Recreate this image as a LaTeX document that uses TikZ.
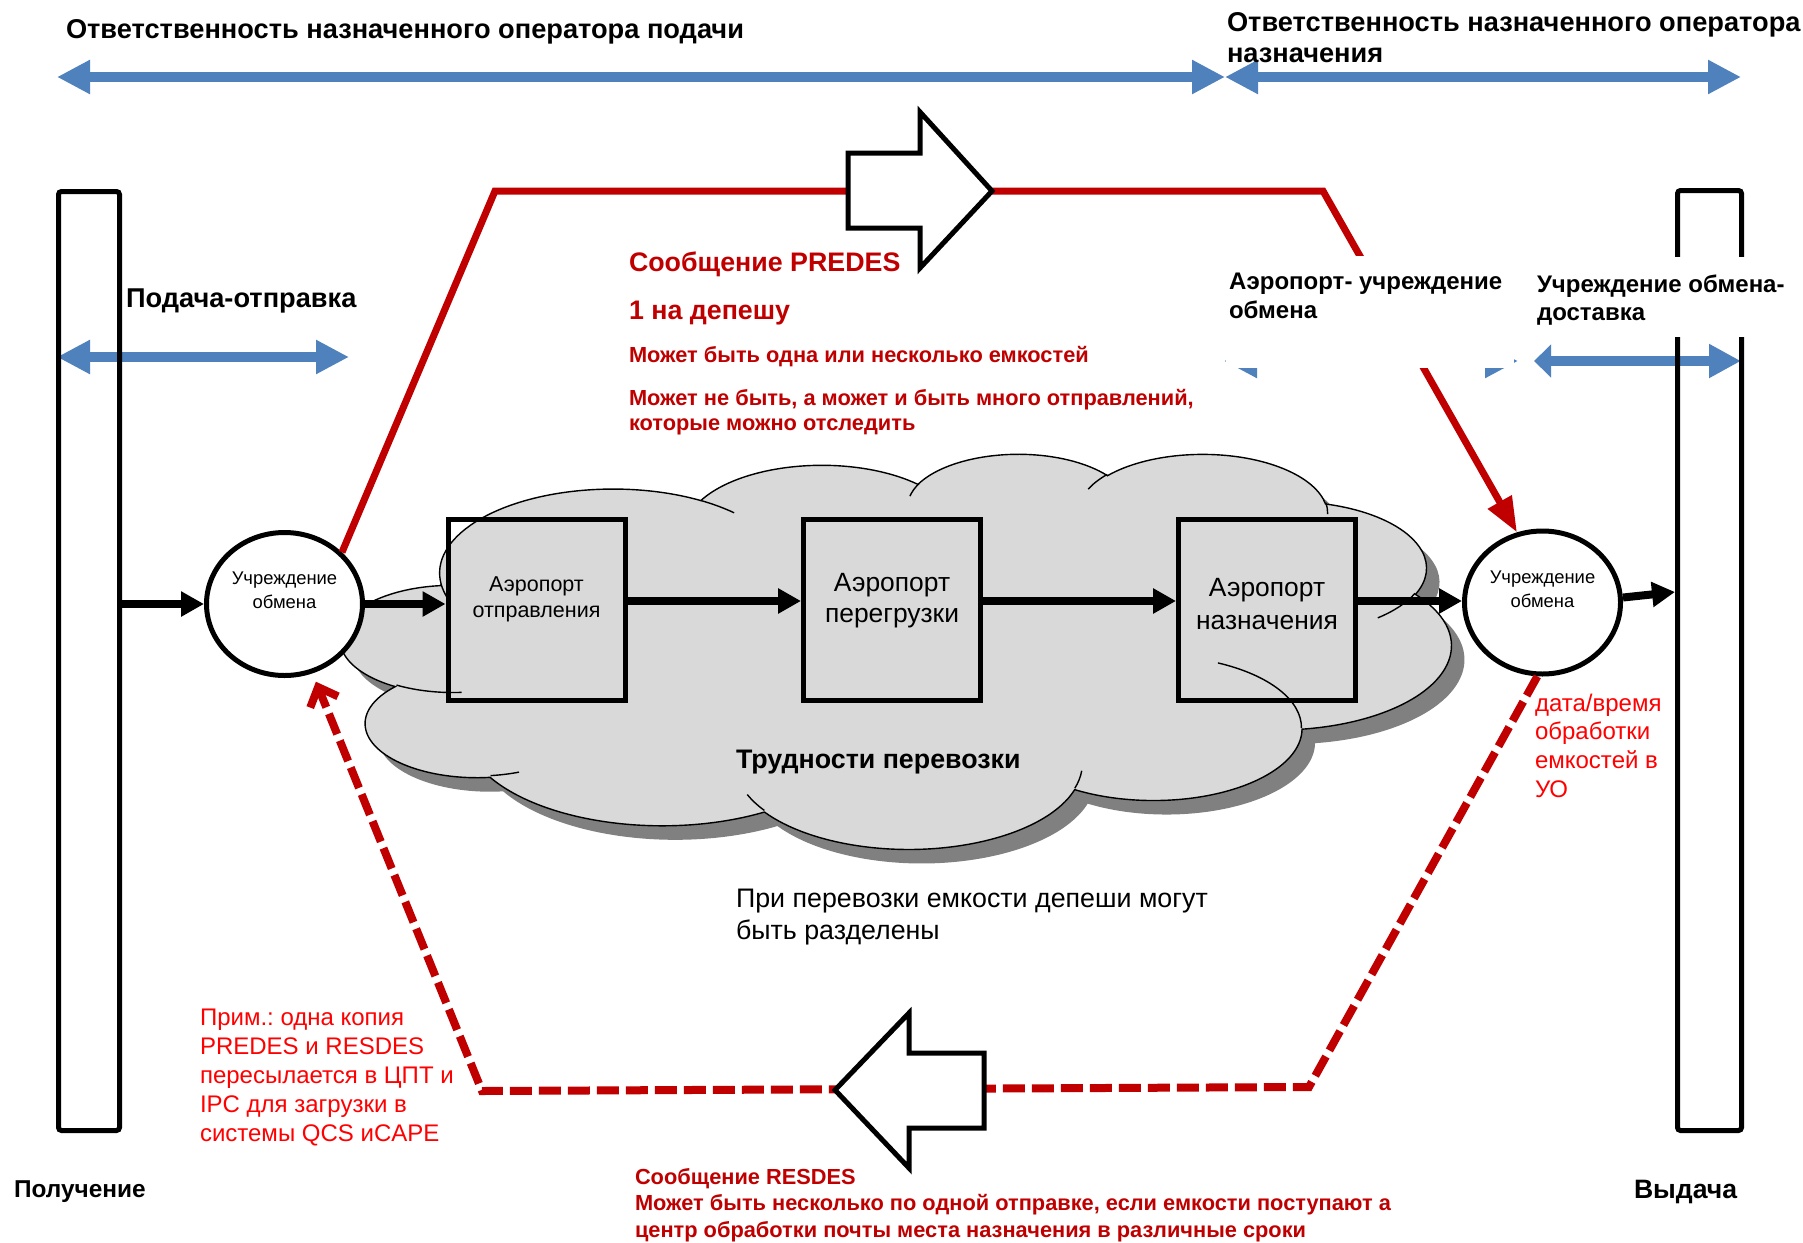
\documentclass[tikz,border=0pt]{standalone}
\usepackage{fontspec}
\setmainfont{Liberation Sans}
\usetikzlibrary{arrows.meta,shapes.geometric}
\frenchspacing
\definecolor{blueA}{HTML}{4F81BD}
\definecolor{redD}{HTML}{C00000}
\definecolor{redB}{HTML}{FF0000}
\definecolor{cloudF}{HTML}{D9D9D9}
\definecolor{shadowC}{HTML}{808080}
\newcommand\fsz[2]{\fontsize{#1}{#2}\selectfont}
\newcommand\lnsl[1]{\begin{tabular}[t]{@{}l@{}}#1\end{tabular}}
\newcommand\lnsc[1]{\begin{tabular}[t]{@{}c@{}}#1\end{tabular}}
% PowerPoint-style arcTo: visual angles -> parametric angles
\newcommand\cldprep[5]{%
  \pgfmathsetmacro\cldtmpa{atan2((#2)*sin(#4),(#3)*cos(#4))}%
  \pgfmathsetmacro\cldtmpb{atan2((#2)*sin((#4)+(#5)),(#3)*cos((#4)+(#5)))}%
  \pgfmathsetmacro\cldtmpd{\cldtmpb-\cldtmpa}%
  \pgfmathsetmacro\cldtmpd{(\cldtmpd>180)?(\cldtmpd-360):((\cldtmpd<-180)?(\cldtmpd+360):(\cldtmpd))}%
  \pgfmathsetmacro\cldtmpx{(#2)*0.5}%
  \pgfmathsetmacro\cldtmpy{(#3)*0.5}%
  \expandafter\xdef\csname cldS#1\endcsname{\cldtmpa}%
  \expandafter\xdef\csname cldD#1\endcsname{\cldtmpd}%
  \expandafter\xdef\csname cldX#1\endcsname{\cldtmpx pt}%
  \expandafter\xdef\csname cldY#1\endcsname{\cldtmpy pt}%
}
\cldprep{A}{67.53}{91.90}{-190.4875}{123.7805}
\cldprep{B}{53.33}{72.67}{-144.1024}{89.9452}
\cldprep{C}{43.65}{59.45}{-145.8079}{99.7230}
\cldprep{D}{48.57}{65.95}{-130.9861}{117.2417}
\cldprep{E}{53.33}{72.73}{-78.7089}{109.0269}
\cldprep{F}{67.75}{92.20}{-46.2673}{130.2690}
\cldprep{G}{57.85}{78.67}{0.6250}{114.0333}
\cldprep{H}{67.52}{92.15}{22.4516}{115.1726}
\cldprep{I}{77.20}{105.43}{66.2426}{75.7110}
\cldprep{J}{43.60}{59.18}{-274.9421}{146.7356}
\cldprep{K}{43.45}{59.45}{-246.8285}{152.5189}
\cldprep{a}{43.45}{59.45}{86.7420}{26.4295}
\cldprep{b}{43.60}{59.18}{73.6105}{11.4475}
\cldprep{c}{67.52}{92.15}{137.6242}{14.0811}
\cldprep{d}{67.52}{92.15}{6.4533}{15.9984}
\cldprep{e}{57.85}{78.67}{-70.2924}{70.9174}
\cldprep{f}{53.33}{72.73}{30.3180}{27.7515}
\cldprep{g}{48.57}{65.95}{-13.7443}{14.8589}
\cldprep{h}{48.57}{65.95}{-149.1815}{18.1954}
\cldprep{i}{43.65}{59.45}{-163.4943}{17.6864}
\cldprep{j}{67.53}{91.90}{-66.7070}{12.3194}
\cldprep{k}{67.53}{91.90}{157.6544}{11.8582}
\tikzset{
  ca/.style={start angle=\csname cldS#1\endcsname, delta angle=\csname cldD#1\endcsname,
    x radius=\csname cldX#1\endcsname, y radius=\csname cldY#1\endcsname},
  txt/.style={anchor=base west, inner sep=0pt, outer sep=0pt},
  txtc/.style={anchor=base, inner sep=0pt, outer sep=0pt},
  bluearr/.style={draw=blueA, line width=5pt,
    arrows={Triangle[length=16.5pt,width=16pt]-Triangle[length=16.5pt,width=16pt]}},
  bluearrS/.style={draw=blueA, line width=5pt,
    arrows={Triangle[length=8.5pt,width=16pt]-Triangle[length=16pt,width=16pt]}},
  barst/.style={draw=black, line width=2.5pt, rounded corners=1.5pt, inner sep=0pt, rectangle},
  boxst/.style={draw=black, line width=2.5pt, rectangle, minimum width=88.5pt, minimum height=90.5pt, inner sep=0pt},
  circst/.style={draw=black, fill=white, line width=2.5pt, ellipse, minimum width=78pt, minimum height=71.5pt, inner sep=0pt},
  blk/.style={draw=black, line width=4pt, arrows={-Triangle[length=11.5pt,width=12pt]}},
  predes/.style={draw=redD, line width=3.5pt, line join=miter, arrows={-Triangle[length=17.5pt,width=13pt]}},
  resdes/.style={draw=redD, line width=4pt, dash pattern=on 11pt off 3.5pt, line join=miter,
    arrows={-Straight Barb[length=8pt,width=15pt]}, shorten >=4.5pt},
  blockarr/.style={draw=black, fill=white, line width=2.5pt, line join=miter},
  cloudline/.style={draw=black, line width=0.7pt}
}
\begin{document}
\begin{tikzpicture}[x=0.5pt,y=-0.5pt]
\fill[white] (0,0) rectangle (1803,1242);
\useasboundingbox (0,0) rectangle (1803,1242);

% blue double arrows
\draw[bluearr] (57,77) -- (1225,77);
\draw[bluearr] (1225,77) -- (1741,77);
\draw[bluearr] (57,357) -- (349,357);
\draw[bluearr] (1224,361) -- (1518,361);
\draw[bluearrS] (1534,361) -- (1741,361);

% side bars
\node[barst, minimum width=30.5pt, minimum height=469.5pt] (lbar) at (89,661) {};
\node[barst, minimum width=32pt, minimum height=470pt] (rbar) at (1709.5,660.5) {};

% cloud
\begin{scope}[shift={(341,453)}, x=0.5pt, y=0.5pt, xscale=2.5694, yscale=-0.9144]
  \path[fill=cloudF, cloudline,
        preaction={fill=shadowC, transform canvas={xshift=6.5pt, yshift=-7pt}}]
    (39.00,143.70) arc[ca=A] arc[ca=B] arc[ca=C] arc[ca=D] arc[ca=E] arc[ca=F]
    arc[ca=G] arc[ca=H] arc[ca=I] arc[ca=J] arc[ca=K] -- cycle;
  \draw[cloudline] (46.93,261.77) arc[ca=a];
  \draw[cloudline] (69.28,348.99) arc[ca=b];
  \draw[cloudline] (164.78,390.90) arc[ca=c];
  \draw[cloudline] (288.27,347.51) arc[ca=d];
  \draw[cloudline] (341.29,229.54) arc[ca=e];
  \draw[cloudline] (417.98,153.54) arc[ca=f];
  \draw[cloudline] (383.24,54.26) arc[ca=g];
  \draw[cloudline] (290.78,39.52) arc[ca=h];
  \draw[cloudline] (221.41,47.20) arc[ca=i];
  \draw[cloudline] (140.00,51.92) arc[ca=j];
  \draw[cloudline] (41.27,157.89) arc[ca=k];
\end{scope}

% airport boxes
\node[boxst] (b1) at (536.5,610) {};
\node[boxst] (b2) at (892,610) {};
\node[boxst] (b3) at (1267,610) {};

% exchange offices
\node[circst] (c1) at (284.5,604) {};
\node[circst] (c2) at (1542.5,602.5) {};

% black flow arrows
\coordinate (row) at (0,601);
\coordinate (tilt) at (0,592);
\draw[blk] (lbar.east |- c1) -- (c1.west);
\draw[blk] (c1.east) -- (b1.west |- c1.east);
\draw[blk] (b1.east |- row) -- (b2.west |- row);
\draw[blk] (b2.east |- row) -- (b3.west |- row);
\draw[blk] (b3.east |- row) -- (c2.west |- row);
\draw[blk] ([yshift=2.5pt]c2.east) -- (rbar.west |- tilt);

% PREDES
\coordinate (p1) at (495,191);
\coordinate (p2) at (1323,191);
\draw[predes] (c1.42) -- (p1) -- (p2) -- (c2.110);
\draw[blockarr] (848,153) -- (920,153) -- (920,112) -- (992,191) -- (920,268) -- (920,228) -- (848,228) -- cycle;

% RESDES
\coordinate (q1) at (1309,1087);
\coordinate (q2) at (482,1091);
\draw[resdes] (c2.266) -- (q1) -- (q2) -- (c1.292);
\draw[blockarr] (835,1090) -- (909,1013) -- (909,1053) -- (984,1053) -- (984,1128) -- (909,1128) -- (909,1168) -- cycle;

% white label backgrounds
\fill[white] (1226,256) rectangle (1514,368);
\fill[white] (1528,257) rectangle (1795,337);

% texts
\node[txt, font=\fsz{13.6}{15.5}\bfseries] (tl) at (66,38) {Ответственность назначенного оператора подачи};
\node[txt, font=\fsz{13.6}{15.5}\bfseries] (tr) at (1227,32) {\lnsl{Ответственность назначенного оператора\\назначения}};
\node[txt, font=\fsz{13.6}{15.5}\bfseries] (pod) at (126,307) {Подача-отправка};
\node[txt, font=\fsz{12}{14.5}\bfseries] (aer) at (1229,289) {\lnsl{Аэропорт- учреждение\\обмена}};
\node[txt, font=\fsz{12}{14.25}\bfseries] (uch) at (1537,292) {\lnsl{Учреждение обмена-\\доставка}};

\node[txt, font=\fsz{13.4}{15.5}\bfseries, text=redD] (pr1) at (629,271) {Сообщение PREDES};
\node[txt, font=\fsz{13.4}{15.5}\bfseries, text=redD] (pr2) at (629,319) {1 на депешу};
\node[txt, font=\fsz{10.9}{12.5}\bfseries, text=redD] (pr3) at (629,362) {Может быть одна или несколько емкостей};
\node[txt, font=\fsz{10.9}{12.5}\bfseries, text=redD] (pr4) at (629,405) {\lnsl{Может не быть, а может и быть много отправлений,\\которые можно отследить}};

\node[txtc, font=\fsz{9.2}{12}] (c1t) at (284.5,584) {\lnsc{Учреждение\\обмена}};
\node[txtc, font=\fsz{9.2}{12}] (c2t) at (1542.5,583) {\lnsc{Учреждение\\обмена}};

\node[txtc, font=\fsz{10.75}{13}] (b1t) at (536.5,591) {\lnsc{Аэропорт\\отправления}};
\node[txtc, font=\fsz{13.2}{15.5}] (b2t) at (892,591.5) {\lnsc{Аэропорт\\перегрузки}};
\node[txtc, font=\fsz{13.2}{16.5}] (b3t) at (1267,596) {\lnsc{Аэропорт\\назначения}};

\node[txt, font=\fsz{13.4}{15.5}\bfseries] (trud) at (736,768) {Трудности перевозки};
\node[txt, font=\fsz{13.4}{16}] (pri) at (736,907) {\lnsl{При перевозки емкости депеши могут\\быть разделены}};

\node[txt, font=\fsz{12}{14.35}, text=redB] (dat) at (1535,711) {\lnsl{дата/время\\обработки\\емкостей в\\УО}};
\node[txt, font=\fsz{12}{14.5}, text=redB] (prim) at (200,1025) {\lnsl{Прим.: одна копия\\PREDES и RESDES\\пересылается в ЦПТ и\\IPC для загрузки в\\системы QCS иCAPE}};

\node[txt, font=\fsz{12.2}{14}\bfseries] (pol) at (14,1197) {Получение};
\node[txt, font=\fsz{13.3}{15}\bfseries] (vyd) at (1634,1198) {Выдача};

\node[txt, font=\fsz{10.9}{13.25}\bfseries, text=redD] (res) at (635,1184) {\lnsl{Сообщение RESDES\\Может быть несколько по одной отправке, если емкости поступают а\\центр обработки почты места назначения в различные сроки}};
\end{tikzpicture}
\end{document}
